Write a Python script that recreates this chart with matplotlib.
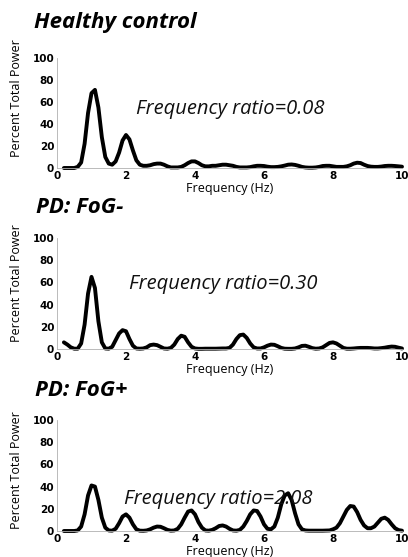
import numpy as np
import matplotlib
matplotlib.use("Agg")
import matplotlib.pyplot as plt

# frequency grid of the spectra (Hz)
freq = np.round(np.arange(0.2, 10.05, 0.1), 1)

healthy = [0, 0, 0, 0, 1, 5, 22, 50, 68, 71,
           55, 28, 10, 4, 3, 6, 14, 25, 30, 26,
           16, 7, 3, 2, 2, 2.5, 3.5, 4, 4, 3,
           1.5, 0.5, 0.5, 0.5, 1, 2.5, 4.5, 6, 6, 4.5,
           2.5, 1.5, 1.5, 2, 2, 2.5, 3, 3, 2.5, 2,
           1, 0.5, 0.5, 0.5, 0.8, 1.5, 2, 2, 1.8, 1.2,
           0.8, 0.8, 1, 1.5, 2.2, 3, 3.2, 2.8, 2, 1,
           0.5, 0.3, 0.3, 0.5, 1, 1.8, 2, 2, 1.5, 1,
           1, 1, 1.5, 2.5, 4, 4.8, 4.5, 3, 1.8, 1.2,
           1, 1, 1.3, 1.8, 2, 2, 1.8, 1.5, 1.2]

fog_neg = [6, 4, 1.5, 0.3, 0.3, 5, 22, 50, 65, 55,
           25, 6, 0.5, 0.3, 2, 8, 14, 17, 16, 9,
           3, 0.5, 0.3, 0.5, 1.5, 3.5, 4, 3.5, 2, 0.5,
           0.3, 1, 4, 9, 12, 11, 6, 2, 0.5, 0.2,
           0.2, 0.3, 0.3, 0.3, 0.3, 0.4, 0.5, 0.5, 1, 4,
           9, 12.5, 13, 10, 5, 1.5, 0.5, 0.5, 1.5, 3,
           4, 3.8, 2.5, 1, 0.3, 0.2, 0.2, 0.5, 1.5, 2.8,
           3, 2, 0.8, 0.3, 0.5, 1.5, 3.5, 5.5, 6, 5,
           3, 1, 0.3, 0.3, 0.5, 0.8, 1, 1, 1, 0.8,
           0.5, 0.5, 0.8, 1.2, 1.8, 2.2, 2, 1.2, 0.5]

fog_pos = [0, 0, 0, 0, 0.5, 4, 15, 32, 41, 40,
           28, 12, 3, 0.5, 0.3, 2, 7, 13, 15, 12,
           6, 1.5, 0.3, 0.2, 0.5, 1.5, 3, 4, 3.8, 2.5,
           1, 0.3, 0.5, 2, 6, 12, 17.5, 18.5, 15, 8,
           3, 0.5, 0.3, 1, 2.5, 4.5, 5, 4, 2, 0.5,
           0.3, 1, 4, 9, 15, 18.5, 18, 13, 6, 2,
           1.5, 4, 12, 24, 32, 34, 28, 16, 6, 1.5,
           0.5, 0.3, 0.3, 0.3, 0.3, 0.3, 0.4, 0.5, 1.5, 3,
           7, 13, 19, 22.5, 22, 17, 10, 5, 2.5, 2.5,
           4, 7.5, 11, 12, 10, 6, 2.5, 0.8, 0.3]

titles = ["Healthy control", "PD: FoG-", "PD: FoG+"]
ratios = ["Frequency ratio=0.08", "Frequency ratio=0.30", "Frequency ratio=2.08"]
series = [healthy, fog_neg, fog_pos]

fig = plt.figure(figsize=(4.08, 5.57), dpi=100)

# axes boxes in figure fractions, title / label positions per panel
boxes = [[0.1397, 0.6984, 0.8456, 0.1975],
         [0.1397, 0.3734, 0.8456, 0.1993],
         [0.1397, 0.0467, 0.8456, 0.1993]]
title_pos = [(0.084, 0.9605), (0.088, 0.6266), (0.086, 0.2998)]
ratio_pos = [(2.3, 54), (2.1, 59), (1.93, 29)]
ylab_y = [0.64, 0.59, 0.55]

for i in range(3):
    ax = fig.add_axes(boxes[i])
    ax.plot(freq, series[i], color="black", lw=2.8, clip_on=False,
            solid_joinstyle="round", solid_capstyle="round")
    ax.set_xlim(0, 10)
    ax.set_ylim(0, 100)
    ax.set_xticks([0, 2, 4, 6, 8, 10])
    ax.set_yticks([0, 20, 40, 60, 80, 100])
    ax.tick_params(length=0, labelsize=7.5, pad=2)
    for lab in ax.get_xticklabels() + ax.get_yticklabels():
        lab.set_fontweight("bold")
    for s in ["top", "right"]:
        ax.spines[s].set_visible(False)
    for s in ["left", "bottom"]:
        ax.spines[s].set_color("#b0b0b0")
        ax.spines[s].set_linewidth(0.6)

    ax.text(0.5, -0.185, "Frequency (Hz)", transform=ax.transAxes,
            ha="center", va="center", fontsize=9, family="Open Sans")
    ax.text(-0.116, ylab_y[i], "Percent Total Power", transform=ax.transAxes,
            rotation=90, ha="center", va="center", fontsize=9,
            family="Open Sans")
    ax.text(ratio_pos[i][0], ratio_pos[i][1], ratios[i], ha="left",
            va="center", fontsize=14.5, style="italic", family="Open Sans",
            color="#111111")
    fig.text(title_pos[i][0], title_pos[i][1], titles[i], ha="left",
             va="center", fontsize=16, style="italic", fontweight="bold",
             family="Open Sans")

fig.savefig("out.png", dpi=100)
